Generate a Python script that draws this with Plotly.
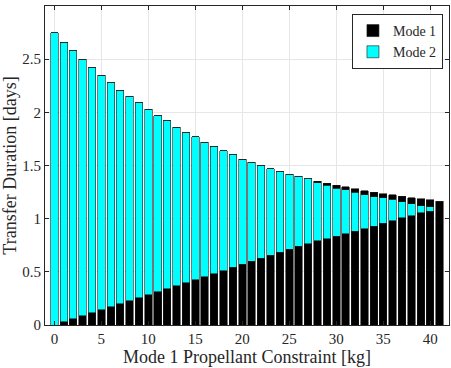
import plotly.graph_objects as go

# propellant constraint [kg]
propellant = list(range(42))

# Mode 1 transfer duration [days] (bottom segment)
mode1 = [0.0, 0.031, 0.059, 0.088, 0.116, 0.144, 0.172, 0.200, 0.229, 0.257,
         0.285, 0.313, 0.342, 0.370, 0.398, 0.426, 0.455, 0.483, 0.512, 0.542,
         0.571, 0.599, 0.627, 0.655, 0.684, 0.712, 0.740, 0.766, 0.791, 0.810,
         0.834, 0.857, 0.882, 0.904, 0.928, 0.957, 0.982, 1.007, 1.029, 1.055,
         1.070, 1.164]

# Mode 2 transfer duration [days]
mode2 = [2.750, 2.629, 2.521, 2.412, 2.304, 2.206, 2.108, 2.010, 1.921, 1.833,
         1.745, 1.657, 1.578, 1.490, 1.412, 1.344, 1.265, 1.197, 1.128, 1.058,
         0.989, 0.931, 0.873, 0.815, 0.756, 0.708, 0.660, 0.609, 0.549, 0.504,
         0.453, 0.413, 0.367, 0.319, 0.280, 0.241, 0.201, 0.150, 0.110, 0.065,
         0.041, 0.0]

# trailing Mode 1 arc on top of the stack [days]
mode1_end = [0.0] * 28 + [0.012, 0.019, 0.028, 0.028, 0.032, 0.041, 0.041,
                          0.038, 0.041, 0.054, 0.057, 0.066, 0.066, 0.0]

font = "Liberation Serif"
edge = dict(color="#1a1a1a", width=0.6)

fig = go.Figure()
fig.add_trace(go.Bar(x=propellant, y=mode1, name="Mode 1",
                     marker=dict(color="black", line=edge), width=0.8))
fig.add_trace(go.Bar(x=propellant, y=mode2, name="Mode 2",
                     marker=dict(color="#00ffff", line=edge), width=0.8))
fig.add_trace(go.Bar(x=propellant, y=mode1_end, name="Mode 1", showlegend=False,
                     marker=dict(color="black", line=edge), width=0.8))

axis_style = dict(
    showline=True, linecolor="#262626", linewidth=1, mirror="ticks",
    ticks="inside", ticklen=4, tickcolor="#262626",
    showgrid=True, gridcolor="#e6e6e6", gridwidth=1, zeroline=False,
    tickfont=dict(family=font, size=15, color="#262626"),
)

fig.update_layout(
    barmode="stack",
    width=451, height=368,
    margin=dict(l=45, r=2, t=6, b=43),
    plot_bgcolor="white", paper_bgcolor="white",
    font=dict(family=font, color="#262626"),
    xaxis=dict(range=[-1, 42], dtick=5, tick0=0,
               title=dict(text="Mode 1 Propellant Constraint [kg]",
                          font=dict(family=font, size=18), standoff=3),
               **axis_style),
    yaxis=dict(range=[0, 3], dtick=0.5,
               title=dict(text="Transfer Duration [days]",
                          font=dict(family=font, size=18), standoff=5),
               **axis_style),
    legend=dict(x=0.985, y=0.975, xanchor="right", yanchor="top",
                traceorder="normal", itemwidth=30,
                bgcolor="white", bordercolor="#262626", borderwidth=1,
                font=dict(family=font, size=14), tracegroupgap=0),
    showlegend=True,
)

fig.write_html("out.html", config={"displayModeBar": False},
               post_script="document.body.style.margin='0px';")
